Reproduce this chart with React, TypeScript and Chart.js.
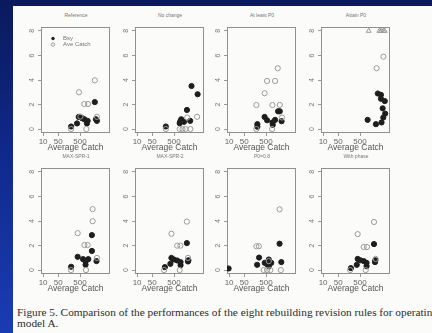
import React, { useEffect, useRef } from "react";
import { Chart, registerables } from "chart.js";
Chart.register(...registerables);

const xTicks = [10, 50, 500];
const yTicks = [0, 2, 4, 6, 8];

// Reference
const refBsyX = [195, 365, 435, 620, 790, 1120, 1040, 2400, 2700, 3000];
const refBsyY = [0.21, 0.46, 0.99, 0.89, 0.8, 0.67, 0.46, 2.2, 0.8, 0.67];
const refAveX = [450, 790, 1170, 2400, 195, 980, 3000, 520];
const refAveY = [3.0, 2.04, 2.04, 3.97, 0, 0, 1.0, 1.02];
// No change
const ncBsyX = [210, 910, 1080, 1440, 1970, 2780, 3200, 6100, 980];
const ncBsyY = [0.21, 0.48, 0.8, 0.59, 1.56, 0.67, 3.51, 2.84, 0.64];
const ncAveX = [210, 910, 1230, 1700, 2850, 2030, 5800];
const ncAveY = [0, 0, 0, 0, 0, 0.94, 1.0];
// At least P0
const alBsyX = [200, 200, 430, 560, 990, 1020, 1310, 1800, 2150, 2600];
const alBsyY = [0.4, 0.19, 0.99, 0.72, 0.54, 0.35, 0.75, 1.45, 1.45, 0.64];
const alAveX = [180, 430, 560, 1310, 990, 1730, 2150, 2730, 180, 950];
const alAveY = [1.96, 2.92, 3.92, 3.92, 1.96, 4.96, 1.96, 0.94, 0, 0];
// Attain P0
const atBsyX = [1120, 2700, 3300, 4600, 4600, 6900, 5500, 7200, 5900, 4900];
const atBsyY = [0.75, 0.4, 2.9, 2.79, 2.47, 2.28, 1.69, 1.26, 0.94, 0.54];
const atAveX = [2900, 6000];
const atAveY = [4.96, 5.9];
const atTopX = [1260, 3900, 4600, 5900, 6900];
const atTopY = [8, 8, 8, 8, 8];
// MAX-SPR-1
const m1BsyX = [195, 390, 690, 900, 900, 1200, 1760, 1760, 2870];
const m1BsyY = [0.27, 1.08, 0.89, 0.7, 0.43, 0.89, 2.85, 1.56, 0.73];
const m1AveX = [390, 800, 1120, 1900, 1900, 195, 940, 3000];
const m1AveY = [3.01, 2.04, 2.04, 4.97, 3.98, 0, 0, 0.99];
// MAX-SPR-2
const m2BsyX = [190, 340, 380, 500, 700, 1000, 1000, 1950, 2200, 2300];
const m2BsyY = [0.24, 0.51, 0.99, 0.86, 0.78, 0.65, 0.4, 2.2, 0.7, 0.8];
const m2AveX = [380, 700, 980, 1950, 175, 910, 2200];
const m2AveY = [2.96, 1.99, 1.99, 3.95, 0, 0, 0.99];
// P0=0.8
const p8BsyX = [9.5, 195, 240, 435, 575, 670, 670, 870, 2100, 2530];
const p8BsyY = [0.13, 0.43, 1.02, 0.59, 0.46, 0.86, 0.32, 0.59, 2.15, 0.65];
const p8AveX = [180, 235, 2100, 670, 390, 560, 790, 2400];
const p8AveY = [1.94, 1.94, 4.95, 0.73, 0, 0, 0, 0];
// With phase
const wpBsyX = [190, 355, 390, 520, 740, 1000, 1000, 2200, 2450, 2550];
const wpBsyY = [0.16, 0.43, 0.91, 0.8, 0.73, 0.59, 0.32, 2.12, 0.65, 0.8];
const wpAveX = [390, 740, 1050, 2200, 177, 910, 2630];
const wpAveY = [2.93, 1.88, 1.88, 3.92, 0, 0, 0.91];

type PanelDef = {
  title: string;
  bsyX: number[]; bsyY: number[];
  aveX: number[]; aveY: number[];
  topX?: number[]; topY?: number[];
  col: number; row: number; legend?: boolean;
};

const panels: PanelDef[] = [
  { title: "Reference", bsyX: refBsyX, bsyY: refBsyY, aveX: refAveX, aveY: refAveY, col: 0, row: 0, legend: true },
  { title: "No change", bsyX: ncBsyX, bsyY: ncBsyY, aveX: ncAveX, aveY: ncAveY, col: 1, row: 0 },
  { title: "At least P0", bsyX: alBsyX, bsyY: alBsyY, aveX: alAveX, aveY: alAveY, col: 2, row: 0 },
  { title: "Attain P0", bsyX: atBsyX, bsyY: atBsyY, aveX: atAveX, aveY: atAveY, topX: atTopX, topY: atTopY, col: 3, row: 0 },
  { title: "MAX-SPR-1", bsyX: m1BsyX, bsyY: m1BsyY, aveX: m1AveX, aveY: m1AveY, col: 0, row: 1 },
  { title: "MAX-SPR-2", bsyX: m2BsyX, bsyY: m2BsyY, aveX: m2AveX, aveY: m2AveY, col: 1, row: 1 },
  { title: "P0=0.8", bsyX: p8BsyX, bsyY: p8BsyY, aveX: p8AveX, aveY: p8AveY, col: 2, row: 1 },
  { title: "With phase", bsyX: wpBsyX, bsyY: wpBsyY, aveX: wpAveX, aveY: wpAveY, col: 3, row: 1 },
];

const BOX_LEFT = [41, 135, 227, 321];
const BOX_TOP = [26, 167];
const BOX_W = 70;
const BOX_H = 107;
const Y_AXIS_W = 16;
const X_AXIS_H = 22;
const PAD_TOP = 4;
const PAD_RIGHT = 4;
const SANS = "'Liberation Sans', Arial, sans-serif";

const framePlugin = {
  id: "frame",
  beforeDatasetsDraw(chart: any) {
    const { ctx, chartArea: a } = chart;
    ctx.save();
    ctx.strokeStyle = "#909090";
    ctx.lineWidth = 1;
    ctx.strokeRect(Math.round(a.left) + 0.5, Math.round(a.top) + 0.5, Math.round(a.right - a.left) - 1, Math.round(a.bottom - a.top) - 1);
    ctx.restore();
  },
};

const yLabelPlugin = {
  id: "yRotLabels",
  afterDraw(chart: any) {
    const s = chart.scales.y;
    const ctx = chart.ctx;
    ctx.save();
    ctx.fillStyle = "#777";
    ctx.font = `7px ${SANS}`;
    ctx.textAlign = "center";
    ctx.textBaseline = "middle";
    s.ticks.forEach((t: any) => {
      const y = s.getPixelForValue(t.value);
      ctx.save();
      ctx.translate(chart.chartArea.left - 8.5, y);
      ctx.rotate(-Math.PI / 2);
      ctx.fillText(String(t.value), 0, 0);
      ctx.restore();
    });
    ctx.restore();
  },
};

const legendPlugin = {
  id: "insideLegend",
  afterDatasetsDraw(chart: any) {
    const { ctx, chartArea: a } = chart;
    ctx.save();
    const x = a.left + 12;
    ctx.fillStyle = "#222";
    ctx.beginPath();
    ctx.arc(x, a.top + 11.5, 1.7, 0, Math.PI * 2);
    ctx.fill();
    ctx.strokeStyle = "#9b9b9b";
    ctx.lineWidth = 1;
    ctx.beginPath();
    ctx.arc(x, a.top + 17.5, 1.7, 0, Math.PI * 2);
    ctx.stroke();
    ctx.fillStyle = "#777";
    ctx.font = `6px ${SANS}`;
    ctx.textBaseline = "middle";
    ctx.fillText("Bsy", a.left + 22, a.top + 11.5);
    ctx.fillText("Ave Catch", a.left + 22, a.top + 17.5);
    ctx.restore();
  },
};

function Panel({ def }: { def: PanelDef }) {
  const ref = useRef<HTMLCanvasElement>(null);
  useEffect(() => {
    const toPts = (xs: number[], ys: number[]) => xs.map((x, i) => ({ x, y: ys[i] }));
    const datasets: any[] = [
      {
        label: "Ave Catch",
        data: toPts(def.aveX, def.aveY),
        pointStyle: "circle",
        pointRadius: 2.6,
        backgroundColor: "rgba(0,0,0,0)",
        borderColor: "#9b9b9b",
        borderWidth: 1,
      },
    ];
    if (def.topX && def.topY) {
      datasets.push({
        label: "Ave Catch (top)",
        data: toPts(def.topX, def.topY),
        pointStyle: "triangle",
        pointRadius: 2.8,
        backgroundColor: "rgba(0,0,0,0)",
        borderColor: "#9b9b9b",
        borderWidth: 1,
      });
    }
    datasets.push({
      label: "Bsy",
      data: toPts(def.bsyX, def.bsyY),
      pointStyle: "circle",
      pointRadius: 2.6,
      backgroundColor: "#1e1e1e",
      borderColor: "#1e1e1e",
      borderWidth: 1,
    });
    const chart = new Chart(ref.current as HTMLCanvasElement, {
      type: "scatter",
      data: { datasets },
      options: {
        animation: false,
        responsive: false,
        layout: { padding: { top: PAD_TOP, right: PAD_RIGHT, left: 0, bottom: 0 } },
        plugins: { legend: { display: false }, tooltip: { enabled: false } },
        scales: {
          x: {
            type: "logarithmic",
            min: 8,
            max: 12000,
            afterBuildTicks: (s: any) => {
              s.ticks = xTicks.map((v) => ({ value: v }));
            },
            afterFit: (s: any) => {
              s.height = X_AXIS_H;
            },
            ticks: {
              callback: (v: any) => String(v),
              font: { family: SANS, size: 8 },
              color: "#666",
              padding: 1,
              maxRotation: 0,
              autoSkip: false,
            },
            grid: { drawOnChartArea: false, drawTicks: true, tickLength: 3, color: "#999" },
            border: { display: false },
            title: {
              display: true,
              text: "Average Catch",
              font: { family: SANS, size: 8.5 },
              color: "#555",
              padding: { top: 0, bottom: 2.5 },
            },
          },
          y: {
            type: "linear",
            min: -0.32,
            max: 8.32,
            afterBuildTicks: (s: any) => {
              s.ticks = yTicks.map((v) => ({ value: v }));
            },
            afterFit: (s: any) => {
              s.width = Y_AXIS_W;
            },
            ticks: { display: false },
            grid: { drawOnChartArea: false, drawTicks: true, tickLength: 3, color: "#999" },
            border: { display: false },
          },
        },
      } as any,
      plugins: [framePlugin, yLabelPlugin, ...(def.legend ? [legendPlugin] : [])],
    });
    return () => chart.destroy();
  }, [def]);

  const left = BOX_LEFT[def.col];
  const top = BOX_TOP[def.row];
  return (
    <>
      <div
        style={{
          position: "absolute",
          left,
          top: def.row === 0 ? 11 : 152,
          width: BOX_W,
          textAlign: "center",
          fontFamily: SANS,
          fontSize: "5px",
          lineHeight: "8px",
          color: "#777",
          whiteSpace: "nowrap",
        }}
      >
        {def.title}
      </div>
      <canvas
        ref={ref}
        width={Y_AXIS_W + BOX_W + PAD_RIGHT}
        height={PAD_TOP + BOX_H + X_AXIS_H}
        style={{
          position: "absolute",
          left: left - Y_AXIS_W,
          top: top - PAD_TOP,
          width: Y_AXIS_W + BOX_W + PAD_RIGHT,
          height: PAD_TOP + BOX_H + X_AXIS_H,
        }}
      />
    </>
  );
}

const captionLine1 = "Figure 5. Comparison of the performances of the eight rebuilding revision rules for operating";
const captionLine2 = "model A.";

export default function App() {
  return (
    <div
      style={{
        position: "fixed",
        left: 0,
        top: 0,
        width: 432,
        height: 333,
        overflow: "hidden",
        background: "linear-gradient(to bottom, #0a1a5c 0%, #10288a 45%, #1a3cb4 100%)",
      }}
    >
      <div style={{ position: "absolute", left: 13, top: 6, right: 0, bottom: 0, background: "#fbfbf9" }} />
      {panels.map((p, i) => (
        <Panel key={i} def={p} />
      ))}
      <div
        style={{
          position: "absolute",
          left: 17,
          top: 307,
          width: 460,
          fontFamily: "'Liberation Serif', 'Times New Roman', serif",
          fontSize: "11.3px",
          lineHeight: "11px",
          color: "#2c2c2c",
          whiteSpace: "nowrap",
        }}
      >
        <div>{captionLine1}</div>
        <div>{captionLine2}</div>
      </div>
    </div>
  );
}
